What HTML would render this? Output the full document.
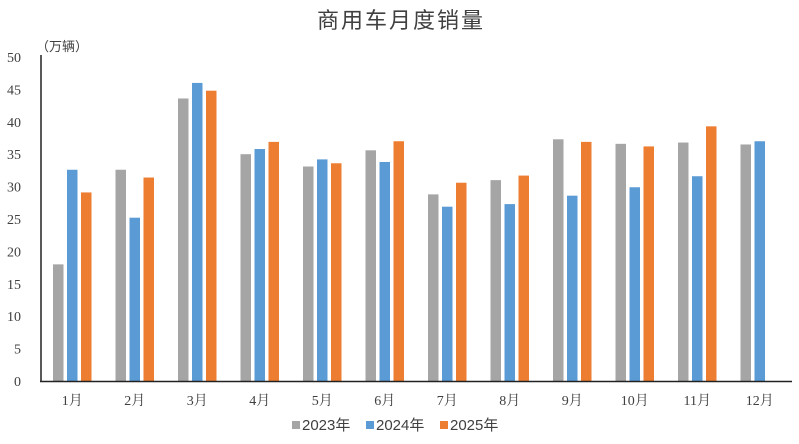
<!DOCTYPE html>
<html><head><meta charset="utf-8"><style>
body{margin:0;background:#fff;width:799px;height:439px;overflow:hidden}
svg text{font-family:"Liberation Serif","Noto Serif CJK SC","Noto Sans CJK SC",serif;fill:#404040}
svg text.s{font-family:"Liberation Sans","Noto Sans CJK SC",sans-serif}
</style></head><body>
<svg width="799" height="439" xmlns="http://www.w3.org/2000/svg">
<text class="s" x="401" y="28" text-anchor="middle" font-size="22" letter-spacing="2">商用车月度销量</text>
<text class="s" x="36" y="51" font-size="13">（万辆）</text>
<g id="bars"></g>
<line x1="41" y1="55" x2="41" y2="382" stroke="#222" stroke-width="1.5"/>
<line x1="40" y1="381.5" x2="792" y2="381.5" stroke="#222" stroke-width="1.5"/>
<g font-size="14" text-anchor="end" id="yt"></g>
<g font-size="14" text-anchor="middle" id="xt"></g>
<g font-size="15">
<rect x="292" y="421" width="8" height="8" fill="#A5A5A5"/><text class="s" x="302" y="430">2023年</text>
<rect x="366" y="421" width="8" height="8" fill="#5B9BD5"/><text class="s" x="376" y="430">2024年</text>
<rect x="440" y="421" width="8" height="8" fill="#ED7D31"/><text class="s" x="450" y="430">2025年</text>
</g>
</svg>
<script>
const d=[[18.0,32.6,29.1],[32.6,25.2,31.4],[43.6,46.0,44.8],[35.0,35.8,36.9],[33.1,34.2,33.6],[35.6,33.8,37.0],[28.8,26.9,30.6],[31.0,27.3,31.7],[37.3,28.6,36.9],[36.6,29.9,36.2],[36.8,31.6,39.3],[36.5,37.0,null]];
const cols=["#A5A5A5","#5B9BD5","#ED7D31"],offs=[-19.25,-5.25,8.75];
const ns="http://www.w3.org/2000/svg";
let b=document.getElementById('bars'),yt=document.getElementById('yt'),xt=document.getElementById('xt');
function el(t,a,p,txt){let e=document.createElementNS(ns,t);for(let k in a)e.setAttribute(k,a[k]);if(txt)e.textContent=txt;p.appendChild(e);}
d.forEach((g,i)=>{let c=72.25+62.5*i;g.forEach((v,j)=>{if(v==null)return;let h=v*6.48;el('rect',{x:c+offs[j],y:381-h,width:10.5,height:h,fill:cols[j]},b);});
el('text',{x:c,y:405},xt,(i+1)+'月');});
for(let v=0;v<=50;v+=5)el('text',{x:21,y:381-v*6.48+5},yt,String(v));
</script>
</body></html>
